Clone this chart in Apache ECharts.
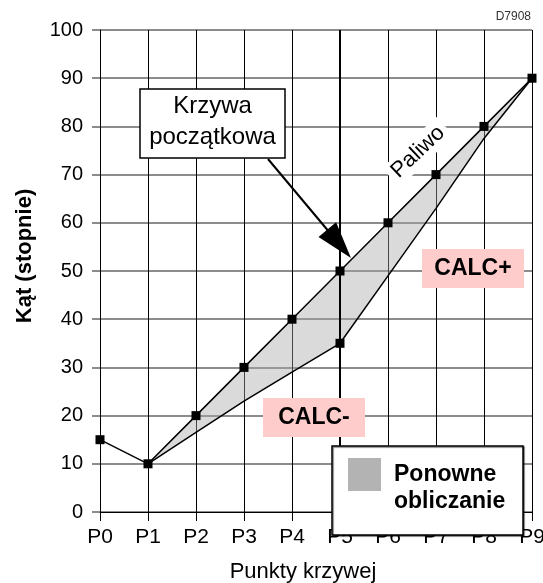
<!DOCTYPE html>
<html>
<head>
<meta charset="utf-8">
<script src="https://cdn.jsdelivr.net/npm/echarts@6/dist/echarts.min.js"></script>
<style>
  html, body { margin: 0; padding: 0; background: #fff; }
  #chart { width: 543px; height: 583px; }
</style>
</head>
<body>
<div id="chart"></div>
<script>
// Curve points along the x axis
const categories = ['P0', 'P1', 'P2', 'P3', 'P4', 'P5', 'P6', 'P7', 'P8', 'P9'];
// Initial curve (angle in degrees)
const initialCurve = [15, 10, 20, 30, 40, 50, 60, 70, 80, 90];
// Recalculated curve (starts at P1)
const recalcCurve = [null, 10, 16.5, 23, 29, 35, 49, 63, 77.5, 90];
// Value axis range
const yMin = 0, yMax = 100, yStep = 10;

// Height of the shaded band between the two curves (stacked on recalcCurve)
const bandHeight = initialCurve.map((v, i) => recalcCurve[i] == null ? null : v - recalcCurve[i]);

const FONT = 'Liberation Sans, Arial, sans-serif';
const chart = echarts.init(document.getElementById('chart'), null, { renderer: 'canvas' });

chart.setOption({
  backgroundColor: '#fff',
  animation: false,
  grid: { left: 100, right: 11, top: 30, bottom: 71, containLabel: false, outerBoundsMode: 'none' },
  xAxis: {
    type: 'category',
    data: categories,
    boundaryGap: false,
    name: 'Punkty krzywej',
    nameLocation: 'middle',
    nameGap: 49,
    nameTextStyle: { fontFamily: FONT, fontSize: 22, color: '#000', padding: [0, 26, 0, 0] },
    axisLine: { lineStyle: { color: '#000', width: 1 } },
    axisTick: { show: true, length: 9, lineStyle: { color: '#000' } },
    axisLabel: { fontFamily: FONT, fontSize: 21, color: '#000', margin: 15 },
    splitLine: { show: true, lineStyle: { color: '#000', width: 1 } }
  },
  yAxis: {
    type: 'value',
    min: yMin, max: yMax, interval: yStep,
    name: 'Kąt (stopnie)',
    nameLocation: 'middle',
    nameGap: 64,
    nameTextStyle: { fontFamily: FONT, fontSize: 22, fontWeight: 'bold', color: '#000', padding: [0, 0, 0, 30] },
    axisLine: { show: true, lineStyle: { color: '#000', width: 1 } },
    axisTick: { show: true, length: 8, lineStyle: { color: '#666', width: 1.5 } },
    axisLabel: { fontFamily: FONT, fontSize: 20, color: '#000', margin: 17 },
    splitLine: { show: true, lineStyle: { color: '#666', width: 1.5 } }
  },
  legend: {
    left: 348, top: 434,
    padding: 0,
    selectedMode: false,
    orient: 'vertical',
    itemWidth: 49, itemHeight: 33,
    z: 20,
    formatter: () => '\nPonowne\nobliczanie',
    textStyle: { fontFamily: FONT, fontSize: 23, fontWeight: 'bold', color: '#000', lineHeight: 27 },
    data: [{ name: 'Ponowne obliczanie', icon: 'path://M0,0H10V10H0Z', itemStyle: { color: '#b3b3b3', opacity: 1 } }]
  },
  series: [
    {
      name: 'bandBase', type: 'line', data: recalcCurve, stack: 'band',
      symbol: 'none', lineStyle: { opacity: 0 }, silent: true, z: 1
    },
    {
      name: 'Ponowne obliczanie', type: 'line', data: bandHeight, stack: 'band',
      symbol: 'none', lineStyle: { opacity: 0 }, silent: true, z: 1,
      itemStyle: { color: '#b3b3b3' },
      areaStyle: { color: '#a6a6a6', opacity: 0.42 }
    },
    {
      name: 'Krzywa przeliczona', type: 'line',
      data: recalcCurve.map((v, i) => (i === 5 || v == null) ? v : { value: v, symbol: 'none' }),
      symbol: 'rect', symbolSize: 9,
      itemStyle: { color: '#000' },
      lineStyle: { color: '#000', width: 1.5 },
      silent: true, z: 3
    },
    {
      name: 'Krzywa początkowa', type: 'line', data: initialCurve,
      symbol: 'rect', symbolSize: 9,
      itemStyle: { color: '#000' },
      lineStyle: { color: '#000', width: 1.5 },
      silent: true, z: 4,
      markLine: {
        silent: true, symbol: 'none', label: { show: false },
        lineStyle: { color: '#000', width: 2, type: 'solid' },
        data: [{ xAxis: 'P5' }]
      }
    }
  ],
  graphic: [
    { type: 'text', right: 12, top: 11, z: 30,
      style: { text: 'D7908', font: '12px ' + FONT, fill: '#333' } },
    // legend frame
    { type: 'rect', z: 15, shape: { x: 332, y: 446, width: 191, height: 89 },
      style: { fill: '#fff', stroke: '#000', lineWidth: 1.5,
               shadowColor: 'rgba(0,0,0,0.55)', shadowBlur: 1, shadowOffsetX: 1, shadowOffsetY: 1 } },
    // callout box with arrow
    { type: 'rect', z: 30, shape: { x: 140, y: 89, width: 145, height: 69 },
      style: { fill: '#fff', stroke: '#000', lineWidth: 1.5 } },
    { type: 'text', z: 31, x: 212.5, y: 122,
      style: { text: 'Krzywa\npoczątkowa', font: '24px ' + FONT, fill: '#000',
               align: 'center', verticalAlign: 'middle', lineHeight: 31 } },
    { type: 'line', z: 30, shape: { x1: 268, y1: 159, x2: 330, y2: 233 },
      style: { stroke: '#000', lineWidth: 2 } },
    { type: 'polygon', z: 30, shape: { points: [[351, 258], [318.5, 237], [336.1, 222.2]] },
      style: { fill: '#000' } },
    // fuel label
    { type: 'text', z: 25, x: 418, y: 152, rotation: 0.76,
      style: { text: 'Paliwo', font: '22px ' + FONT, fill: '#000', align: 'center',
               verticalAlign: 'middle', backgroundColor: '#fff', padding: [2, 5] } },
    // CALC+ / CALC- tags
    { type: 'rect', z: 30, shape: { x: 422, y: 249, width: 102, height: 39 }, style: { fill: '#ffcccc' } },
    { type: 'text', z: 31, x: 473, y: 268.5,
      style: { text: 'CALC+', font: 'bold 23px ' + FONT, fill: '#000', align: 'center', verticalAlign: 'middle' } },
    { type: 'rect', z: 30, shape: { x: 263, y: 398, width: 102, height: 39 }, style: { fill: '#ffcccc' } },
    { type: 'text', z: 31, x: 314, y: 417.5,
      style: { text: 'CALC-', font: 'bold 23px ' + FONT, fill: '#000', align: 'center', verticalAlign: 'middle' } }
  ]
});
</script>
</body>
</html>
